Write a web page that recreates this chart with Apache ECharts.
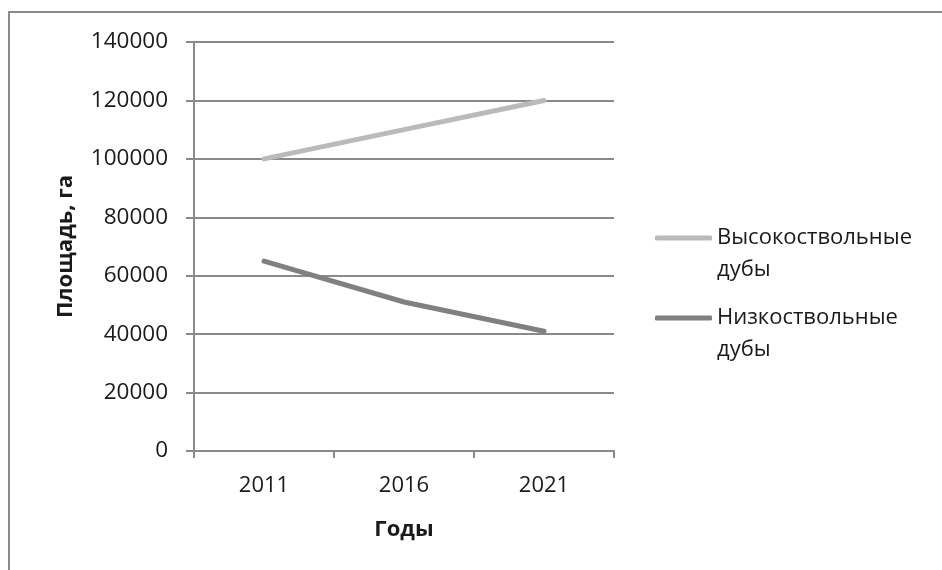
<!DOCTYPE html>
<html>
<head>
<meta charset="utf-8">
<script src="https://cdn.jsdelivr.net/npm/echarts@6/dist/echarts.min.js"></script>
<style>
  html, body { margin: 0; padding: 0; background: #fff; }
  #chart { width: 942px; height: 570px; }
</style>
</head>
<body>
<div id="chart"></div>
<script>
// Площадь дубрав по годам учёта
const years = ['2011', '2016', '2021'];
const highStem = [100000, 110000, 120000];   // Высокоствольные дубы
const lowStem = [65000, 51000, 41000];       // Низкоствольные дубы
const seriesNames = ['Высокоствольные\nдубы', 'Низкоствольные\nдубы'];
const seriesColors = ['#bababa', '#808080'];

const FONT = '"Open Sans", "DejaVu Sans", sans-serif';
const TEXT = '#1a1a1a';
const GRID = '#8a8a8a';

const chart = echarts.init(document.getElementById('chart'), null, { renderer: 'canvas' });

// One legend per series so each two-line label sits with its first line on the icon
function legendFor(idx, top) {
  return {
    data: [seriesNames[idx]],
    left: 655,
    top: top,
    orient: 'vertical',
    padding: 0,
    icon: 'roundRect',
    itemWidth: 57,
    itemHeight: 5,
    selectedMode: false,
    // a blank leading line keeps the first text line centred on the icon
    formatter: name => ' \n' + name,
    textStyle: {
      fontFamily: FONT,
      fontSize: 22,
      color: TEXT,
      lineHeight: 32
    }
  };
}

chart.setOption({
  animation: false,
  backgroundColor: '#fff',
  textStyle: { fontFamily: FONT },
  graphic: [{
    type: 'polyline',
    shape: { points: [[9, 600], [9, 12], [960, 12]] },
    style: { stroke: GRID, lineWidth: 2, fill: null },
    silent: true
  }],
  legend: [legendFor(0, 190), legendFor(1, 270)],
  grid: { left: 194, top: 42, right: 328, bottom: 119, containLabel: false },
  xAxis: {
    type: 'category',
    data: years,
    boundaryGap: true,
    name: 'Годы',
    nameLocation: 'middle',
    nameGap: 68,
    nameMoveOverlap: false,
    nameTextStyle: { fontFamily: FONT, fontSize: 22, fontWeight: 'bold', color: TEXT },
    axisLine: { show: true, lineStyle: { color: GRID, width: 2 } },
    axisTick: { show: true, length: 7, alignWithLabel: false, lineStyle: { color: GRID, width: 2 } },
    axisLabel: { fontFamily: FONT, fontSize: 22, color: TEXT, margin: 24 },
    splitLine: { show: false }
  },
  yAxis: {
    type: 'value',
    min: 0,
    max: 140000,
    interval: 20000,
    name: 'Площадь, га',
    nameLocation: 'middle',
    nameRotate: 90,
    nameGap: 117,
    nameMoveOverlap: false,
    nameTextStyle: { fontFamily: FONT, fontSize: 22, fontWeight: 'bold', color: TEXT },
    axisLine: { show: true, lineStyle: { color: GRID, width: 2 } },
    axisTick: { show: true, length: 8, lineStyle: { color: GRID, width: 2 } },
    axisLabel: { fontFamily: FONT, fontSize: 22.5, color: TEXT, margin: 26, formatter: v => String(v) },
    splitLine: { show: true, lineStyle: { color: GRID, width: 2 } }
  },
  series: [
    {
      name: seriesNames[0],
      type: 'line',
      data: highStem,
      symbol: 'none',
      color: seriesColors[0],
      lineStyle: { width: 5, color: seriesColors[0], cap: 'round', join: 'round' }
    },
    {
      name: seriesNames[1],
      type: 'line',
      data: lowStem,
      symbol: 'none',
      color: seriesColors[1],
      lineStyle: { width: 5, color: seriesColors[1], cap: 'round', join: 'round' }
    }
  ]
});
</script>
</body>
</html>
